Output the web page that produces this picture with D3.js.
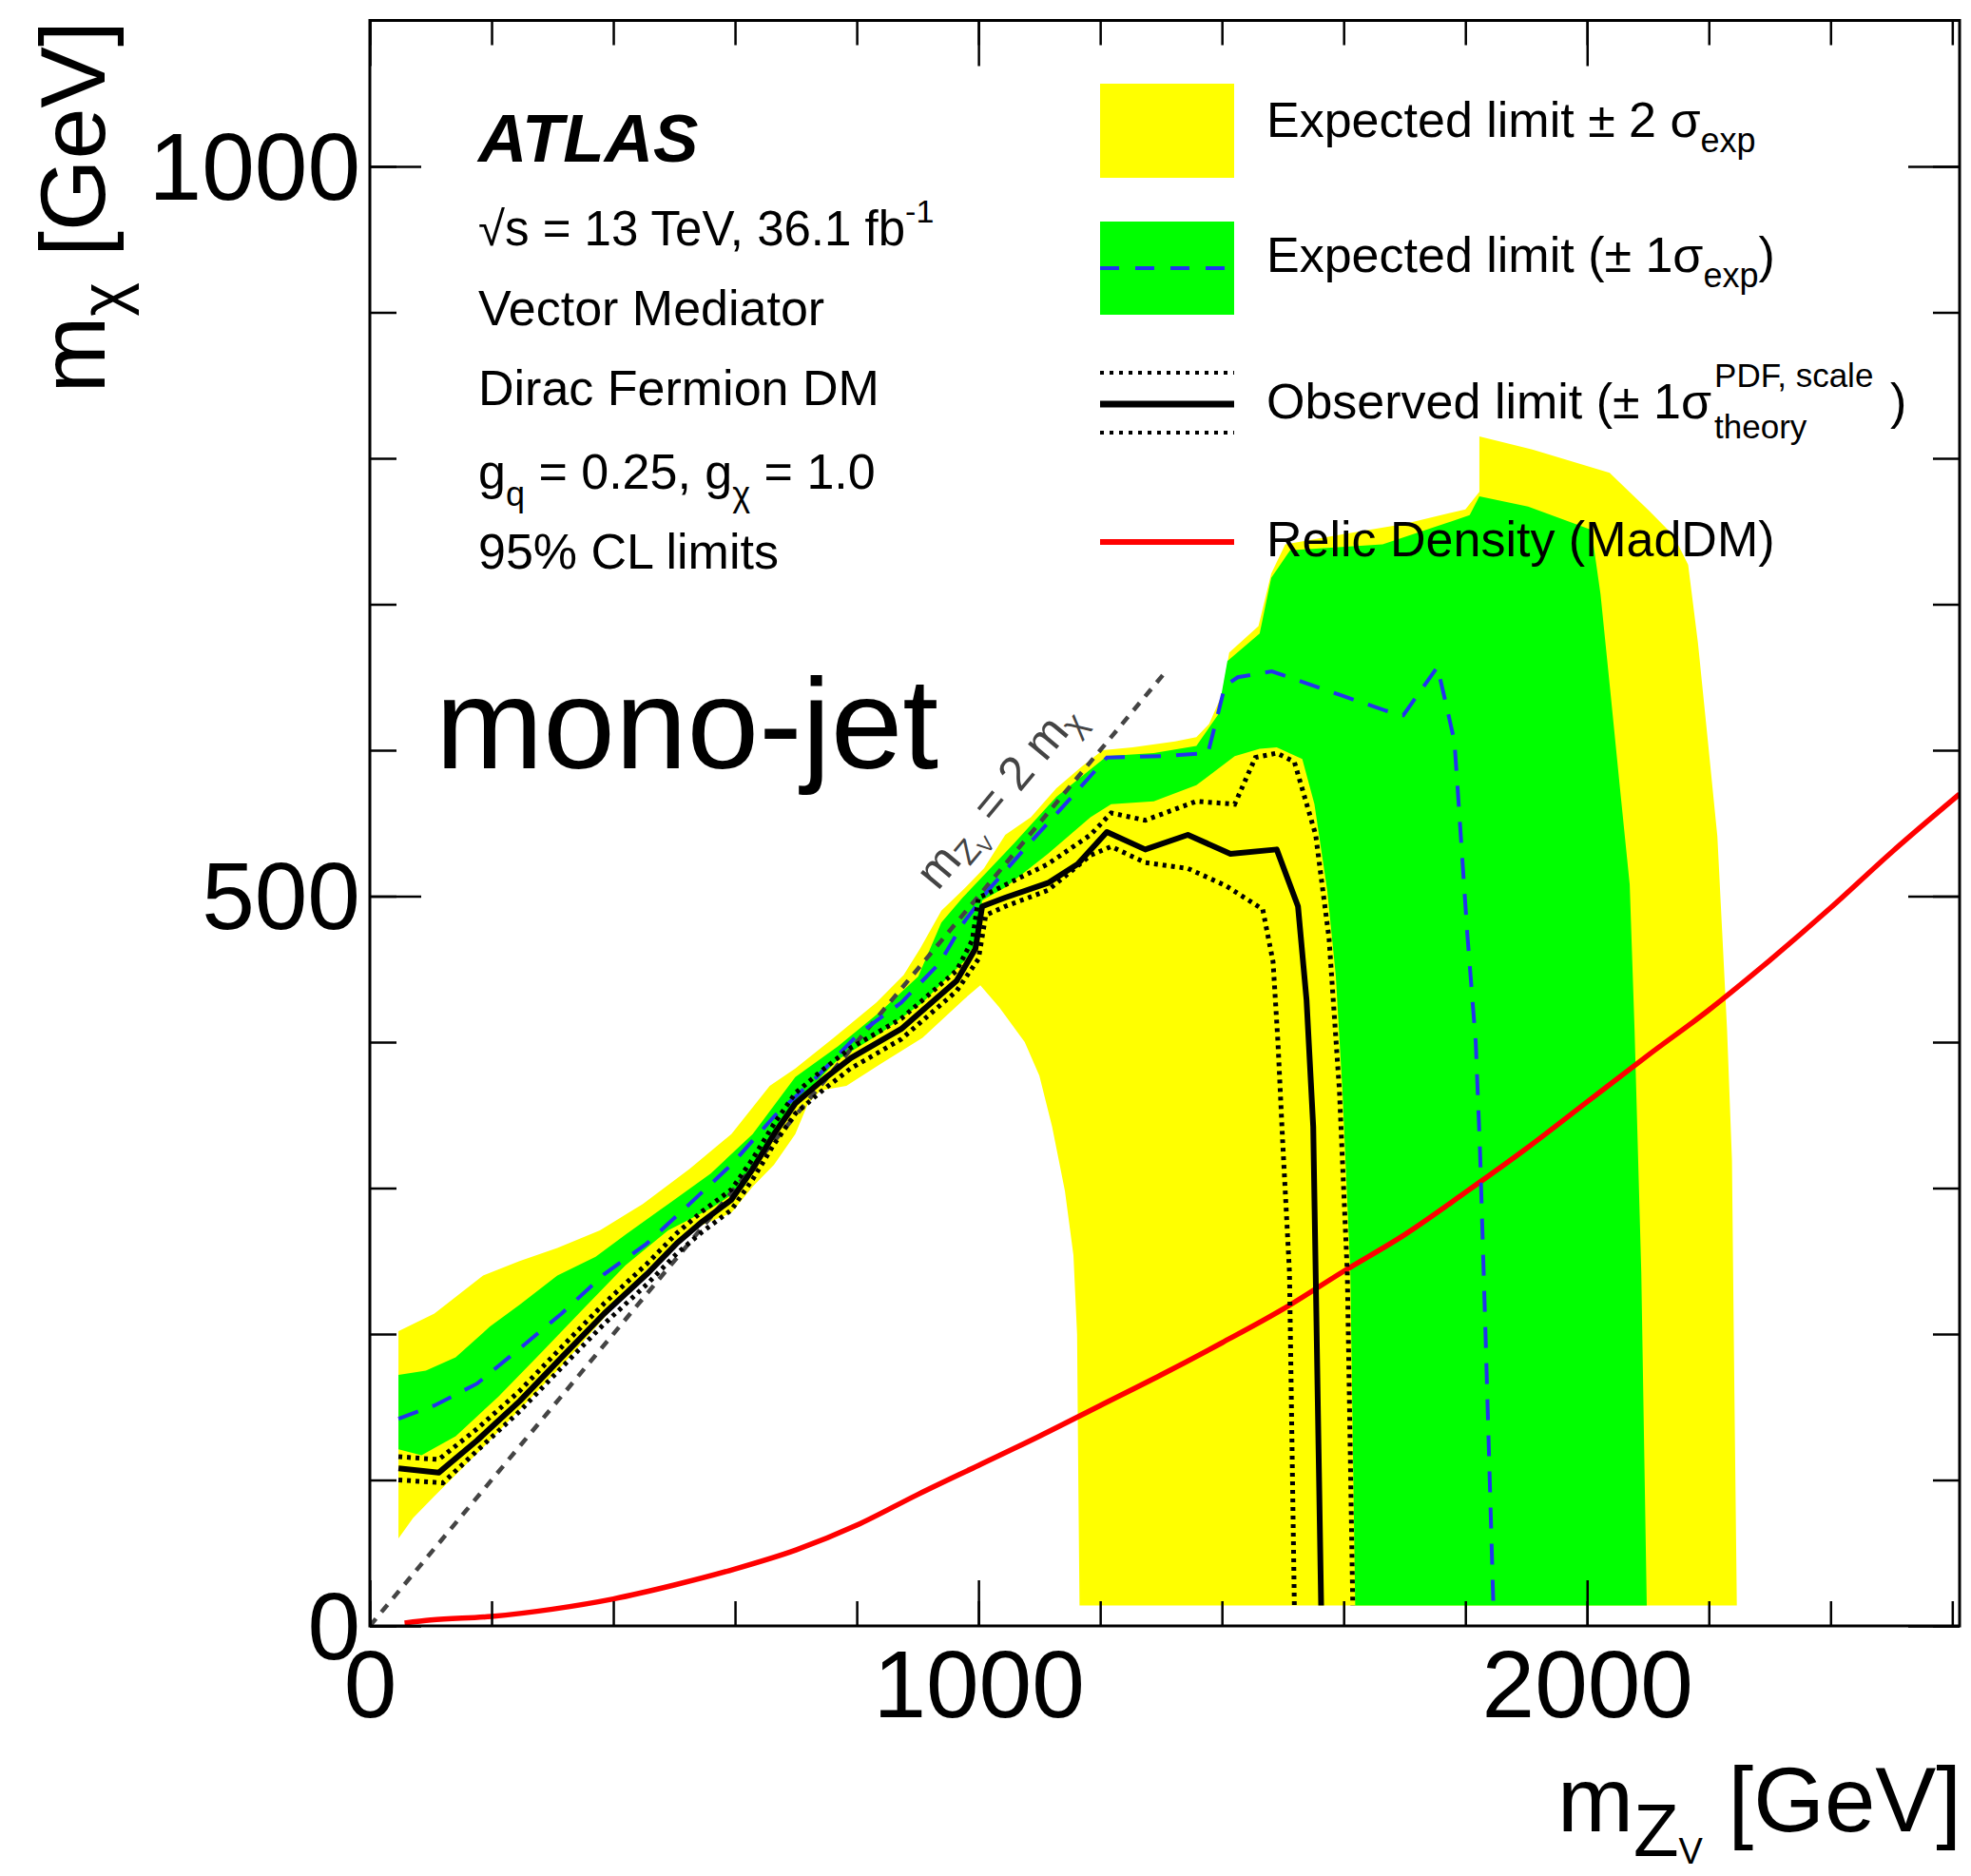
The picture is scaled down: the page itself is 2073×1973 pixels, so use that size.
<!DOCTYPE html>
<html><head><meta charset="utf-8">
<script src="https://cdn.jsdelivr.net/npm/d3@7"></script>
<style>
body{margin:0;background:#fff}
svg{display:block}
text{font-family:"Liberation Sans",Arial,Helvetica,sans-serif}
</style>
</head><body>
<svg id="c" width="2073" height="1973"></svg>
<script>
// ---------------- data (m_Zv [GeV], m_chi [GeV]) ----------------
const xMajorTicks = [0, 1000, 2000];
const xMinorTicks = [0,200,400,600,800,1000,1200,1400,1600,1800,2000,2200,2400,2600];
const yMajorTicks = [0, 500, 1000];
const yMinorTicks = [0,100,200,300,400,500,600,700,800,900,1000];

const expPlus2 = [[47,202],[106,214],[186,240],[246,250],[308,259],[378,271],[448,289],[525,313],[594,337],[657,370],[699,382],[762,403],[832,427],[877,446],[904,464],[939,490],[974,504],[1009,519],[1044,542],[1086,554],[1128,574],[1170,589],[1204,600],[1253,602],[1323,606],[1358,609],[1379,618],[1400,638],[1412,667],[1460,685],[1481,721],[1504,741],[1600,748],[1700,755],[1800,765],[1823,777],[1823,815],[1910,806],[2037,790],[2102,764],[2142,747],[2166,727],[2182,674],[2198,608],[2214,541],[2222,475],[2230,408],[2238,319],[2242,160],[2246,14]];
const expMinus2 = [[47,60],[71,74],[106,89],[176,118],[246,148],[315,178],[385,211],[455,244],[525,271],[594,283],[629,301],[664,316],[699,337],[720,358],[741,367],[783,370],[839,385],[908,403],[978,430],[1003,439],[1034,424],[1076,400],[1100,377],[1121,342],[1142,298],[1156,254],[1162,200],[1164,100],[1166,14]];
const expPlus1 = [[47,172],[92,175],[141,184],[197,205],[246,220],[308,240],[371,253],[420,268],[490,289],[560,310],[629,337],[699,376],[769,397],[839,421],[901,445],[939,482],[974,499],[1058,536],[1128,568],[1211,596],[1288,598],[1358,603],[1393,624],[1409,661],[1462,680],[1481,718],[1512,737],[1664,741],[1807,761],[1823,774],[1903,767],[2007,751],[2022,707],[2038,641],[2054,574],[2070,508],[2078,408],[2089,242],[2098,14]];
const expMinus1 = [[47,121],[85,117],[141,130],[211,157],[281,187],[350,217],[420,247],[490,271],[560,286],[615,301],[664,334],[706,361],[769,388],[839,406],[908,427],[978,456],[998,470],[1006,497],[1044,506],[1114,529],[1184,554],[1218,563],[1288,565],[1358,576],[1421,596],[1462,601],[1490,602],[1532,594],[1552,563],[1573,504],[1587,446],[1598,367],[1611,242],[1619,14]];
const expected = [[47,142],[106,151],[176,166],[246,190],[315,214],[385,241],[455,262],[525,289],[594,316],[664,349],[734,376],[804,406],[873,427],[936,454],[974,481],[1016,504],[1079,534],[1149,566],[1211,595],[1300,596],[1377,598],[1405,644],[1426,650],[1482,654],[1531,647],[1600,637],[1670,627],[1698,624],[1754,657],[1768,632],[1782,606],[1789,563],[1803,475],[1817,400],[1824,326],[1833,201],[1846,14]];
const observed = [[47,108],[113,105],[176,127],[246,154],[315,184],[385,214],[455,241],[504,262],[546,277],[594,292],[629,313],[664,337],[699,358],[741,373],[790,389],[873,409],[964,442],[995,464],[1006,493],[1044,499],[1114,509],[1163,522],[1211,544],[1274,532],[1344,542],[1414,529],[1490,532],[1525,493],[1539,429],[1550,342],[1554,242],[1563,14]];
const observedUp = [[47,116],[113,114],[176,135],[246,161],[315,191],[385,221],[455,248],[504,269],[546,284],[594,299],[629,320],[664,344],[699,365],[741,380],[790,396],[873,416],[964,449],[990,470],[1000,499],[1016,502],[1114,522],[1184,542],[1218,557],[1274,552],[1358,565],[1421,563],[1455,595],[1490,598],[1519,592],[1554,542],[1576,471],[1593,367],[1606,242],[1615,14]];
const observedDown = [[47,100],[120,98],[176,120],[246,147],[315,177],[385,207],[455,234],[504,255],[546,270],[594,285],[629,306],[664,330],[699,351],[741,366],[790,382],[873,402],[964,435],[1000,457],[1012,487],[1044,493],[1114,504],[1184,528],[1218,534],[1274,523],[1344,519],[1407,507],[1467,491],[1484,455],[1492,400],[1500,330],[1511,242],[1519,14]];
const relic = [[57,2],[100,4],[200,6.5],[300,11.5],[400,18.5],[500,28],[600,39],[700,52],[800,69],[900,90],[1000,110],[1100,130],[1200,151],[1300,172],[1400,194],[1500,217],[1600,243],[1700,268],[1800,297],[1900,327],[2000,359],[2100,391],[2200,422],[2300,456],[2400,492],[2500,530],[2612,570]];
const diagonal = [[0,0],[1310,655]];

// ---------------- setup ----------------
const svg = d3.select("#c");
const x = d3.scaleLinear().domain([0, 2612]).range([389, 2061]);
const y = d3.scaleLinear().domain([0, 1100]).range([1710, 21.5]);
const line = d3.line().x(d => x(d[0])).y(d => y(d[1]));
const smooth = d3.line().x(d => x(d[0])).y(d => y(d[1])).curve(d3.curveMonotoneX);

svg.append("defs").append("clipPath").attr("id","clip")
  .append("rect").attr("x",389).attr("y",21.5).attr("width",1672).attr("height",1688.5);
const plot = svg.append("g").attr("clip-path","url(#clip)");

function bandPath(up, low){ return line(up.concat(low.slice().reverse())) + "Z"; }

plot.append("path").attr("d", bandPath(expPlus2, expMinus2)).attr("fill","#ffff00");
plot.append("path").attr("d", bandPath(expPlus1, expMinus1)).attr("fill","#00ff00");

plot.append("path").attr("d", smooth(relic)).attr("fill","none").attr("stroke","#ff0000").attr("stroke-width",5.5);
plot.append("path").attr("d", line(diagonal)).attr("fill","none").attr("stroke","#444").attr("stroke-width",4.5).attr("stroke-dasharray","10,9");
plot.append("path").attr("d", line(expected)).attr("fill","none").attr("stroke","#2233ee").attr("stroke-width",4).attr("stroke-dasharray","22,16");
[observedUp, observedDown].forEach(d => plot.append("path").attr("d", line(d)).attr("fill","none")
  .attr("stroke","#000").attr("stroke-width",5).attr("stroke-dasharray","4,5"));
plot.append("path").attr("d", line(observed)).attr("fill","none").attr("stroke","#000").attr("stroke-width",6).attr("stroke-linejoin","round");

// ---------------- axes ----------------
function styleAxis(g){
  g.select(".domain").remove();
  g.selectAll(".tick line").attr("stroke","#000").attr("stroke-width",2.5);
}
svg.append("g").attr("transform","translate(0,1710)")
  .call(d3.axisBottom(x).tickValues(xMinorTicks).tickSize(-26).tickFormat("")).call(styleAxis);
svg.append("g").attr("transform","translate(0,21.5)")
  .call(d3.axisTop(x).tickValues(xMinorTicks).tickSize(-26).tickFormat("")).call(styleAxis);
svg.append("g").attr("transform","translate(0,21.5)")
  .call(d3.axisTop(x).tickValues(xMajorTicks).tickSize(-48).tickFormat("")).call(styleAxis);
const xb = svg.append("g").attr("transform","translate(0,1710)")
  .call(d3.axisBottom(x).tickValues(xMajorTicks).tickSize(-48).tickFormat(d3.format("d"))).call(styleAxis);
xb.selectAll(".tick text").attr("y",96).attr("dy",null).attr("font-size",100)
  .attr("font-family","Liberation Sans, Arial, sans-serif").attr("fill","#000");

svg.append("g").attr("transform","translate(389,0)")
  .call(d3.axisLeft(y).tickValues(yMinorTicks).tickSize(-28).tickFormat("")).call(styleAxis);
svg.append("g").attr("transform","translate(2061,0)")
  .call(d3.axisRight(y).tickValues(yMinorTicks).tickSize(-28).tickFormat("")).call(styleAxis);
svg.append("g").attr("transform","translate(2061,0)")
  .call(d3.axisRight(y).tickValues(yMajorTicks).tickSize(-54).tickFormat("")).call(styleAxis);
const yl = svg.append("g").attr("transform","translate(389,0)")
  .call(d3.axisLeft(y).tickValues(yMajorTicks).tickSize(-54).tickFormat(d3.format("d"))).call(styleAxis);
yl.selectAll(".tick text").attr("x",-10).attr("dy","0.34em").attr("font-size",100)
  .attr("font-family","Liberation Sans, Arial, sans-serif").attr("fill","#000");

svg.append("rect").attr("x",389).attr("y",21.5).attr("width",1672).attr("height",1688.5)
  .attr("fill","none").attr("stroke","#000").attr("stroke-width",3);

// ---------------- axis titles ----------------
const xt = svg.append("text").attr("x",2063).attr("y",1926).attr("text-anchor","end").attr("font-size",96);
xt.append("tspan").text("m");
xt.append("tspan").attr("dy",26).attr("font-size",78).text("Z");
xt.append("tspan").attr("dy",8).attr("font-size",38).text("V");
xt.append("tspan").attr("dy",-34).text(" [GeV]");

const yt = svg.append("text").attr("transform","translate(110,22) rotate(-90)").attr("text-anchor","end").attr("font-size",97);
yt.append("tspan").text("m");
yt.append("tspan").attr("dy",22).attr("font-size",68).text("χ");
yt.append("tspan").attr("dy",-22).text(" [GeV]");

// ---------------- ATLAS block ----------------
svg.append("text").attr("x",503).attr("y",170).attr("font-size",71).attr("font-weight","bold").attr("font-style","italic").text("ATLAS");
const l1 = svg.append("text").attr("x",503).attr("y",258).attr("font-size",51);
l1.append("tspan").text("√s = 13 TeV, 36.1 fb");
l1.append("tspan").attr("dy",-24).attr("font-size",34).text("-1");
svg.append("text").attr("x",503).attr("y",342).attr("font-size",52).text("Vector Mediator");
svg.append("text").attr("x",503).attr("y",426).attr("font-size",52).text("Dirac Fermion DM");
const l4 = svg.append("text").attr("x",503).attr("y",514).attr("font-size",52);
l4.append("tspan").text("g");
l4.append("tspan").attr("dy",18).attr("font-size",36).text("q");
l4.append("tspan").attr("dy",-18).text(" = 0.25, g");
l4.append("tspan").attr("dy",18).attr("font-size",36).text("χ");
l4.append("tspan").attr("dy",-18).text(" = 1.0");
svg.append("text").attr("x",503).attr("y",598).attr("font-size",52).text("95% CL limits");

// ---------------- legend ----------------
const LX0 = 1157, LX1 = 1298, TX = 1332;
svg.append("rect").attr("x",LX0).attr("y",88).attr("width",LX1-LX0).attr("height",99).attr("fill","#ffff00");
svg.append("rect").attr("x",LX0).attr("y",233).attr("width",LX1-LX0).attr("height",98).attr("fill","#00ff00");
svg.append("line").attr("x1",LX0).attr("x2",LX1).attr("y1",282).attr("y2",282).attr("stroke","#2233ee").attr("stroke-width",4).attr("stroke-dasharray","20,17");
[392,455].forEach(yy => svg.append("line").attr("x1",LX0).attr("x2",LX1).attr("y1",yy).attr("y2",yy)
  .attr("stroke","#000").attr("stroke-width",4).attr("stroke-dasharray","4,6"));
svg.append("line").attr("x1",LX0).attr("x2",LX1).attr("y1",425).attr("y2",425).attr("stroke","#000").attr("stroke-width",7);
svg.append("line").attr("x1",LX0).attr("x2",LX1).attr("y1",570).attr("y2",570).attr("stroke","#ff0000").attr("stroke-width",6);

const t1 = svg.append("text").attr("x",TX).attr("y",144).attr("font-size",52);
t1.append("tspan").text("Expected limit ± 2 σ");
t1.append("tspan").attr("dy",16).attr("font-size",36).text("exp");
const t2 = svg.append("text").attr("x",TX).attr("y",286).attr("font-size",52);
t2.append("tspan").text("Expected limit (± 1σ");
t2.append("tspan").attr("dy",16).attr("font-size",36).text("exp");
t2.append("tspan").attr("dy",-16).text(")");
const t3 = svg.append("text").attr("x",TX).attr("y",440).attr("font-size",52).text("Observed limit (± 1σ");
const t3end = TX + t3.node().getComputedTextLength() + 3;
svg.append("text").attr("x",t3end).attr("y",407).attr("font-size",35).text("PDF, scale");
svg.append("text").attr("x",t3end).attr("y",461).attr("font-size",35).text("theory");
svg.append("text").attr("x",1988).attr("y",440).attr("font-size",52).text(")");
svg.append("text").attr("x",TX).attr("y",585).attr("font-size",52).text("Relic Density (MadDM)");

// ---------------- annotations ----------------
const ang = -Math.atan2(y(0)-y(655), x(1310)-x(0)) * 180/Math.PI;
const dl = svg.append("text").attr("transform",`translate(1062,847) rotate(${ang})`).attr("text-anchor","middle")
  .attr("font-size",50).attr("fill","#444");
dl.append("tspan").text("m");
dl.append("tspan").attr("dy",9).attr("font-size",35).text("Z");
dl.append("tspan").attr("dy",6).attr("font-size",22).text("V");
dl.append("tspan").attr("dy",-15).text(" = 2 m");
dl.append("tspan").attr("dy",9).attr("font-size",35).text("χ");

svg.append("text").attr("x",458).attr("y",808).attr("font-size",136).attr("fill","#000").text("mono-jet");
</script></body></html>
